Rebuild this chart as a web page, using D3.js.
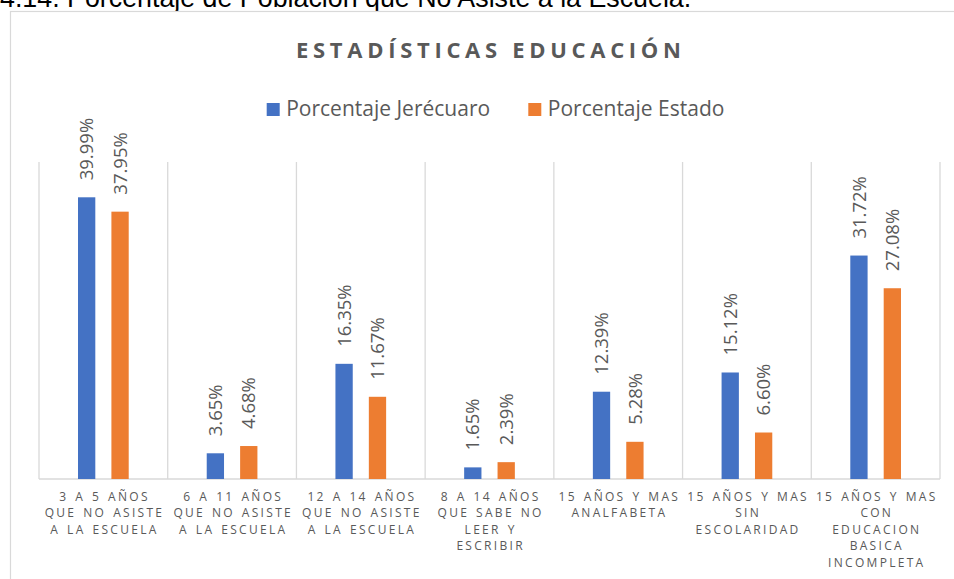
<!DOCTYPE html>
<html>
<head>
<meta charset="utf-8">
<script src="https://cdn.jsdelivr.net/npm/d3@7"></script>
<style>
html,body{margin:0;padding:0;background:#fff;overflow:hidden;}
svg{display:block;}
</style>
</head>
<body>
<svg id="chart" width="954" height="579"></svg>
<script>
const heading = "4.14. Porcentaje de Población que No Asiste a la Escuela.";
const title = "ESTADÍSTICAS EDUCACIÓN";
const seriesNames = ["Porcentaje Jerécuaro", "Porcentaje Estado"];
const categories = [
  ["3 A 5 AÑOS", "QUE NO ASISTE", "A LA ESCUELA"],
  ["6 A 11 AÑOS", "QUE NO ASISTE", "A LA ESCUELA"],
  ["12 A 14 AÑOS", "QUE NO ASISTE", "A LA ESCUELA"],
  ["8 A 14 AÑOS", "QUE SABE NO", "LEER Y", "ESCRIBIR"],
  ["15 AÑOS Y MAS", "ANALFABETA"],
  ["15 AÑOS Y MAS", "SIN", "ESCOLARIDAD"],
  ["15 AÑOS Y MAS", "CON", "EDUCACION", "BASICA", "INCOMPLETA"]
];
const jerecuaro = [39.99, 3.65, 16.35, 1.65, 12.39, 15.12, 31.72];
const estado = [37.95, 4.68, 11.67, 2.39, 5.28, 6.60, 27.08];
const colors = ["#4472C4", "#ED7D31"];
const yMax = 45;

const svg = d3.select("#chart");
const textGray = "#595959";
const gridGray = "#d9d9d9";

// heading (cut at top, as in the source page)
svg.append("text")
  .attr("x", 0).attr("y", 6.5)
  .attr("font-family", "'Liberation Sans', Arial, sans-serif")
  .attr("font-size", 26.8)
  .attr("fill", "#000")
  .text(heading);

// chart frame
svg.append("rect")
  .attr("x", 10.5).attr("y", 11.5)
  .attr("width", 960).attr("height", 600)
  .attr("fill", "#fff").attr("stroke", gridGray).attr("stroke-width", 1.2);

// title
const titleLS = 4.7;
svg.append("text")
  .attr("x", 488.5 + titleLS / 2).attr("y", 58.3)
  .attr("text-anchor", "middle")
  .attr("font-family", "'Open Sans', sans-serif")
  .attr("font-weight", "bold")
  .attr("font-size", 22)
  .attr("letter-spacing", titleLS)
  .attr("fill", textGray)
  .text(title);

// legend
const legendX = [266.7, 528.3];
seriesNames.forEach((name, i) => {
  svg.append("rect")
    .attr("x", legendX[i]).attr("y", 103)
    .attr("width", 13).attr("height", 13)
    .attr("fill", colors[i]);
  svg.append("text")
    .attr("x", legendX[i] + 19.5).attr("y", 116)
    .attr("font-family", "'Open Sans', sans-serif")
    .attr("font-size", 21)
    .attr("fill", textGray)
    .text(name);
});

// scales
const idx = d3.range(categories.length);
const x = d3.scaleBand().domain(idx).range([39, 940]).paddingInner(0).paddingOuter(0);
const xSub = d3.scaleBand().domain([0, 1]).range([0, x.bandwidth()])
  .paddingInner(0.482).paddingOuter(1.168);
const y = d3.scaleLinear().domain([0, yMax]).range([479, 162]);

// vertical separators
const bounds = idx.map(i => x(i)).concat([x(idx.length - 1) + x.bandwidth()]);
svg.append("g").selectAll("line").data(bounds).join("line")
  .attr("x1", d => d).attr("x2", d => d)
  .attr("y1", y(yMax)).attr("y2", y(0))
  .attr("stroke", gridGray).attr("stroke-width", 1.3);

// baseline
svg.append("line")
  .attr("x1", x.range()[0]).attr("x2", x.range()[1])
  .attr("y1", y(0)).attr("y2", y(0))
  .attr("stroke", gridGray).attr("stroke-width", 1.5);

// bars
const labelSize = 18.5;
const series = [jerecuaro, estado];
series.forEach((vals, s) => {
  const g = svg.append("g");
  g.selectAll("rect").data(vals).join("rect")
    .attr("x", (d, i) => x(i) + xSub(s))
    .attr("y", d => y(d))
    .attr("width", xSub.bandwidth())
    .attr("height", d => y(0) - y(d))
    .attr("fill", colors[s]);
  g.selectAll("text").data(vals).join("text")
    .attr("transform", (d, i) => {
      const cx = x(i) + xSub(s) + xSub.bandwidth() / 2 + labelSize * 0.357;
      const cy = y(d) - 17;
      return `translate(${cx},${cy}) rotate(-90)`;
    })
    .attr("font-family", "'Open Sans', sans-serif")
    .attr("font-size", labelSize)
    .attr("fill", textGray)
    .text(d => d.toFixed(2) + "%");
});

// category labels
const catLS = 2.3;
const lg = svg.append("g");
categories.forEach((lines, i) => {
  const t = lg.append("text")
    .attr("text-anchor", "middle")
    .attr("font-family", "'Open Sans', sans-serif")
    .attr("font-size", 12)
    .attr("letter-spacing", catLS)
    .attr("word-spacing", 1.5)
    .attr("fill", textGray);
  lines.forEach((ln, j) => {
    t.append("tspan")
      .attr("x", x(i) + x.bandwidth() / 2 + catLS / 2)
      .attr("y", 501 + j * 16.4)
      .text(ln);
  });
});
</script>
</body>
</html>
